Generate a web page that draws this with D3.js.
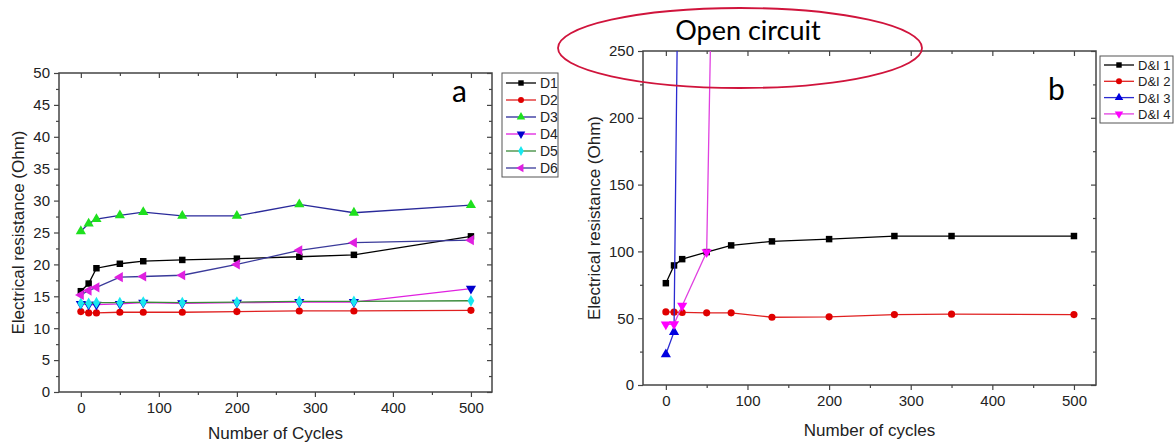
<!DOCTYPE html>
<html>
<head>
<meta charset="utf-8">
<script src="https://cdn.jsdelivr.net/npm/d3@7"></script>
<style>
  body { margin: 0; background: #fff; }
  svg text { font-family: "Liberation Sans", Arial, sans-serif; }
</style>
</head>
<body>
<div id="chart"></div>
<script>
// ---- data ----
var cycles = [0, 10, 20, 50, 80, 130, 200, 280, 350, 500];

// panel a
var seriesA = ["D1", "D2", "D3", "D4", "D5", "D6"];
var d1 = [15.8, 17.0, 19.4, 20.1, 20.5, 20.7, 20.9, 21.2, 21.5, 24.4];
var d2 = [12.6, 12.4, 12.4, 12.5, 12.5, 12.5, 12.6, 12.7, 12.7, 12.8];
var d3v = [25.2, 26.4, 27.1, 27.7, 28.2, 27.6, 27.6, 29.4, 28.1, 29.3];
var d4 = [13.8, 13.7, 13.7, 13.8, 14.0, 13.9, 14.0, 14.1, 14.1, 16.2];
var d5 = [13.9, 13.9, 14.0, 14.0, 14.1, 14.0, 14.1, 14.2, 14.2, 14.3];
var d6 = [15.2, 15.9, 16.4, 18.0, 18.1, 18.3, 20.0, 22.2, 23.4, 23.8];
var yTicksA = [0, 5, 10, 15, 20, 25, 30, 35, 40, 45, 50];

// panel b
var seriesB = ["D&I 1", "D&I 2", "D&I 3", "D&I 4"];
var di1 = [76.2, 89.5, 94.2, 99.5, 104.5, 107.5, 109.2, 111.5, 111.5, 111.5];
var di2 = [54.7, 54.5, 54.3, 54.0, 54.0, 50.7, 51.0, 52.7, 53.0, 52.7];
var cyclesDI3 = [0, 10, 20];
var di3 = [23, 39.7, 600];          // goes open circuit
var cyclesDI4 = [0, 10, 20, 50, 80];
var di4 = [45.4, 45.6, 59.4, 99.5, 1100]; // goes open circuit
var yTicksB = [0, 50, 100, 150, 200, 250];
var xTicks = [0, 100, 200, 300, 400, 500];

var W = 1174, H = 443;
var svg = d3.select("#chart").append("svg").attr("width", W).attr("height", H);

var triDown = { draw: function (ctx, size) { var s = Math.sqrt(size / 0.433) ; var h = s * 0.866;
    ctx.moveTo(0, h * 2 / 3); ctx.lineTo(-s / 2, -h / 3); ctx.lineTo(s / 2, -h / 3); ctx.closePath(); } };
var triLeft = { draw: function (ctx, size) { var s = Math.sqrt(size / 0.433) ; var h = s * 0.866;
    ctx.moveTo(-h * 2 / 3, 0); ctx.lineTo(h / 3, -s / 2); ctx.lineTo(h / 3, s / 2); ctx.closePath(); } };

function drawPanel(p) {
    var x = d3.scaleLinear().domain([-28, 527]).range([p.left, p.right]);
    var y = d3.scaleLinear().domain([0, p.ymax]).range([p.bottom, p.top]);
    var g = svg.append("g");

    // clip
    g.append("clipPath").attr("id", p.id + "clip").append("rect")
        .attr("x", p.left).attr("y", p.top).attr("width", p.right - p.left).attr("height", p.bottom - p.top);

    // minor ticks
    var xMinor = d3.range(50, 501, 100), yMinor = p.yMinor;
    g.append("g").attr("transform", "translate(0," + p.bottom + ")")
        .call(d3.axisBottom(x).tickValues(xMinor).tickSize(3).tickFormat(""));
    g.append("g").attr("transform", "translate(0," + p.top + ")")
        .call(d3.axisBottom(x).tickValues(xMinor).tickSize(3).tickFormat(""));
    g.append("g").attr("transform", "translate(" + p.left + ",0)")
        .call(d3.axisLeft(y).tickValues(yMinor).tickSize(3).tickFormat(""));
    g.append("g").attr("transform", "translate(" + p.right + ",0)")
        .call(d3.axisLeft(y).tickValues(yMinor).tickSize(3).tickFormat(""));

    // major axes
    g.append("g").attr("class", "ax").attr("transform", "translate(0," + p.bottom + ")")
        .call(d3.axisBottom(x).tickValues(xTicks).tickSize(5).tickPadding(5).tickSizeOuter(0));
    g.append("g").attr("class", "ax").attr("transform", "translate(" + p.left + ",0)")
        .call(d3.axisLeft(y).tickValues(p.yTicks).tickSize(5).tickPadding(4).tickSizeOuter(0));
    g.append("g").attr("transform", "translate(0," + p.top + ")")
        .call(d3.axisBottom(x).tickValues(xTicks).tickSize(5).tickFormat("").tickSizeOuter(0));
    g.append("g").attr("transform", "translate(" + p.right + ",0)")
        .call(d3.axisLeft(y).tickValues(p.yTicks).tickSize(5).tickFormat("").tickSizeOuter(0));

    g.selectAll(".domain").remove();
    g.selectAll(".tick line").attr("stroke", "#444").attr("stroke-width", 1.2);
    g.selectAll(".ax text").attr("font-size", "15px").attr("fill", "#222")
        .style("font-family", "Liberation Sans, Arial, sans-serif");

    g.append("rect").attr("x", p.left).attr("y", p.top)
        .attr("width", p.right - p.left).attr("height", p.bottom - p.top)
        .attr("fill", "none").attr("stroke", "#444").attr("stroke-width", 1.5);

    // series
    var plot = g.append("g").attr("clip-path", "url(#" + p.id + "clip)");
    p.series.forEach(function (s) {
        var pts = s.xs.map(function (c, i) { return [c, s.ys[i]]; });
        plot.append("path").datum(pts)
            .attr("d", d3.line().x(function (d) { return x(d[0]); }).y(function (d) { return y(d[1]); }))
            .attr("fill", "none").attr("stroke", s.line).attr("stroke-width", 1.3);
        plot.selectAll(null).data(pts).enter().append("path")
            .attr("transform", function (d) { return "translate(" + x(d[0]) + "," + y(d[1]) + ")"; })
            .attr("d", d3.symbol().type(s.sym).size(s.size))
            .attr("fill", s.mark);
    });

    // axis titles
    g.append("text").attr("transform", "translate(" + p.ytx + "," + ((p.top + p.bottom) / 2) + ") rotate(-90)")
        .attr("text-anchor", "middle").attr("font-size", "17px").attr("fill", "#222").text("Electrical resistance (Ohm)");
    g.append("text").attr("x", (p.left + p.right) / 2).attr("y", p.xty)
        .attr("text-anchor", "middle").attr("font-size", "17px").attr("fill", "#222").text(p.xTitle);

    // panel letter
    g.append("text").attr("x", p.letterX).attr("y", p.letterY).attr("font-size", "30px")
        .style("font-family", "Lato, 'Open Sans', sans-serif").attr("fill", "#000").text(p.letter);

    // legend
    var lg = g.append("g");
    lg.append("rect").attr("x", p.lx).attr("y", p.ly).attr("width", p.lw).attr("height", p.lh)
        .attr("fill", "#fff").attr("stroke", "#555").attr("stroke-width", 1);
    p.series.forEach(function (s, i) {
        var yy = p.ly + p.lfirst + i * p.lstep;
        lg.append("line").attr("x1", p.lx + 4).attr("x2", p.lx + 34).attr("y1", yy).attr("y2", yy)
            .attr("stroke", s.line).attr("stroke-width", 1.3);
        lg.append("path").attr("transform", "translate(" + (p.lx + 19) + "," + yy + ")")
            .attr("d", d3.symbol().type(s.sym).size(s.size * 0.7)).attr("fill", s.mark);
        lg.append("text").attr("x", p.lx + 38).attr("y", yy + 5).attr("font-size", p.lfont)
            .attr("fill", "#222").text(s.name);
    });
}

drawPanel({
    id: "a", left: 59, right: 492, top: 73, bottom: 392, ymax: 50,
    yTicks: yTicksA, yMinor: d3.range(2.5, 50, 5),
    ytx: 24, xty: 439, xTitle: "Number of Cycles",
    letter: "a", letterX: 452, letterY: 102,
    lx: 502, ly: 73, lw: 56, lh: 104, lfirst: 10, lstep: 17, lfont: "14px",
    series: [
        { name: seriesA[0], xs: cycles, ys: d1, line: "#000", mark: "#000", sym: d3.symbolSquare, size: 42 },
        { name: seriesA[1], xs: cycles, ys: d2, line: "#e02020", mark: "#e00000", sym: d3.symbolCircle, size: 40 },
        { name: seriesA[2], xs: cycles, ys: d3v, line: "#2a2a9a", mark: "#1ee01e", sym: d3.symbolTriangle, size: 45 },
        { name: seriesA[3], xs: cycles, ys: d4, line: "#e020e0", mark: "#0000cc", sym: triDown, size: 45 },
        { name: seriesA[4], xs: cycles, ys: d5, line: "#3a8a3a", mark: "#18e8f0", sym: d3.symbolDiamond, size: 40 },
        { name: seriesA[5], xs: cycles, ys: d6, line: "#3a3a9a", mark: "#e020e0", sym: triLeft, size: 45 }
    ]
});

drawPanel({
    id: "b", left: 643, right: 1096, top: 51, bottom: 385, ymax: 250,
    yTicks: yTicksB, yMinor: d3.range(25, 250, 50),
    ytx: 600, xty: 436, xTitle: "Number of cycles",
    letter: "b", letterX: 1048, letterY: 100,
    lx: 1100, ly: 56, lw: 73, lh: 67, lfirst: 9, lstep: 16.3, lfont: "13px",
    series: [
        { name: seriesB[0], xs: cycles, ys: di1, line: "#000", mark: "#000", sym: d3.symbolSquare, size: 42 },
        { name: seriesB[1], xs: cycles, ys: di2, line: "#e02020", mark: "#e00000", sym: d3.symbolCircle, size: 40 },
        { name: seriesB[2], xs: cyclesDI3, ys: di3, line: "#2b2bd0", mark: "#0000e0", sym: d3.symbolTriangle, size: 45 },
        { name: seriesB[3], xs: cyclesDI4, ys: di4, line: "#e040e0", mark: "#ff00ff", sym: triDown, size: 45 }
    ]
});

// "Open circuit" annotation
svg.append("text").attr("x", 748).attr("y", 40).attr("text-anchor", "middle")
    .attr("font-size", "27px").style("font-family", "Lato, 'Open Sans', sans-serif")
    .attr("fill", "#000").text("Open circuit");
svg.append("ellipse").attr("cx", 740).attr("cy", 48).attr("rx", 182).attr("ry", 40)
    .attr("fill", "none").attr("stroke", "#d0143c").attr("stroke-width", 1.8);
</script>
</body>
</html>
